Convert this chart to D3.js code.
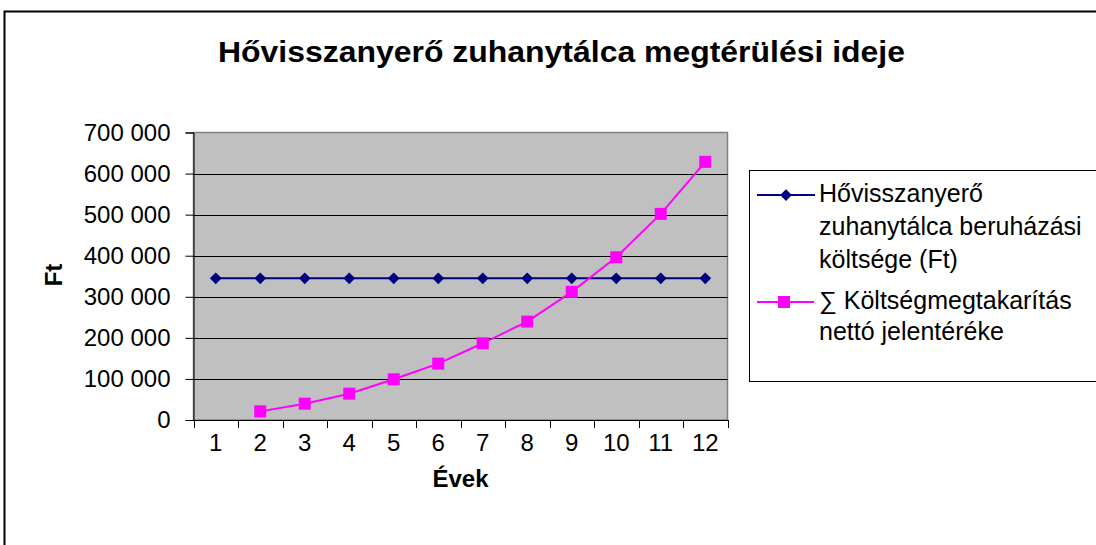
<!DOCTYPE html>
<html lang="hu">
<head>
    <meta charset="UTF-8">
    <title>Hővisszanyerő zuhanytálca megtérülési ideje</title>
    <script src="https://cdn.jsdelivr.net/npm/d3@7"></script>
    <style>
        body { margin: 0; background: #fff; }
        text { font-family: "Liberation Sans", Arial, sans-serif; fill: #000; }
    </style>
</head>
<body>
    <svg width="1096" height="545"></svg>
    <script>
        // adatok
        const years = [1, 2, 3, 4, 5, 6, 7, 8, 9, 10, 11, 12];
        const investCost = [345000, 345000, 345000, 345000, 345000, 345000, 345000, 345000, 345000, 345000, 345000, 345000];
        const savings = [null, 21000, 39700, 64100, 99100, 137200, 186800, 239600, 311900, 396300, 501900, 628600];
        const yTicks = [0, 100000, 200000, 300000, 400000, 500000, 600000, 700000];
        const seriesNames = [
            ["Hővisszanyerő", "zuhanytálca beruházási", "költsége (Ft)"],
            ["∑ Költségmegtakarítás", "nettó jelentéréke"]
        ];

        const svg = d3.select("svg");
        const plot = { left: 193.5, right: 727.5, top: 132.5, bottom: 420 };

        // külső keret
        svg.append("rect")
            .attr("x", 4.5).attr("y", 11.5)
            .attr("width", 1100).attr("height", 560)
            .attr("fill", "#fff").attr("stroke", "#000").attr("stroke-width", 2);

        svg.append("text")
            .attr("x", 218).attr("y", 62)
            .attr("font-size", 30).attr("font-weight", "bold")
            .attr("textLength", 687).attr("lengthAdjust", "spacingAndGlyphs")
            .text("Hővisszanyerő zuhanytálca megtérülési ideje");

        const x = d3.scaleBand().domain(years).range([plot.left, plot.right]);
        const y = d3.scaleLinear().domain([0, 700000]).range([plot.bottom, plot.top]);

        svg.append("rect")
            .attr("x", plot.left).attr("y", plot.top)
            .attr("width", plot.right - plot.left).attr("height", plot.bottom - plot.top)
            .attr("fill", "#c0c0c0").attr("stroke", "#808080").attr("stroke-width", 1.5);

        // rácsvonalak
        svg.append("g").selectAll("line")
            .data(yTicks.filter(d => d > 0 && d < 700000))
            .join("line")
            .attr("x1", plot.left).attr("x2", plot.right)
            .attr("y1", d => Math.round(y(d)) + 0.5).attr("y2", d => Math.round(y(d)) + 0.5)
            .attr("stroke", "#000").attr("stroke-width", 1);

        const fmt = d => d3.format(",")(d).replace(/,/g, " ");

        const yAxis = svg.append("g")
            .attr("transform", `translate(${plot.left},0)`)
            .call(d3.axisLeft(y).tickValues(yTicks).tickFormat(fmt).tickSize(8).tickPadding(15));
        yAxis.selectAll("text").attr("font-size", 24).attr("font-family", "Liberation Sans, Arial, sans-serif");
        yAxis.selectAll("line, path").attr("stroke", "#000");

        const xAxis = svg.append("g")
            .attr("transform", `translate(0,${plot.bottom})`)
            .call(d3.axisBottom(x).tickSize(0).tickPadding(14));
        xAxis.selectAll("text").attr("font-size", 24).attr("font-family", "Liberation Sans, Arial, sans-serif");
        xAxis.select("path").attr("stroke", "#000");

        // kategóriahatárok jelölői
        const edges = years.map(d => x(d)).concat([plot.right]);
        svg.append("g").selectAll("line")
            .data(edges)
            .join("line")
            .attr("x1", d => Math.round(d) + 0.5).attr("x2", d => Math.round(d) + 0.5)
            .attr("y1", plot.bottom).attr("y2", plot.bottom + 8)
            .attr("stroke", "#000");

        svg.append("text")
            .attr("x", x(6) + x.bandwidth()).attr("y", 487)
            .attr("text-anchor", "middle")
            .attr("font-size", 24).attr("font-weight", "bold")
            .text("Évek");

        svg.append("text")
            .attr("transform", "translate(62,275) rotate(-90)")
            .attr("text-anchor", "middle")
            .attr("font-size", 24).attr("font-weight", "bold")
            .text("Ft");

        const cx = d => x(d) + x.bandwidth() / 2;
        const line = d3.line()
            .defined(d => d[1] != null)
            .x(d => cx(d[0]))
            .y(d => y(d[1]));

        const diamond = d3.symbol().type(d3.symbolDiamond2).size(88);

        svg.append("path")
            .datum(years.map((d, i) => [d, investCost[i]]))
            .attr("d", line)
            .attr("fill", "none").attr("stroke", "#000080").attr("stroke-width", 2);
        svg.append("g").selectAll("path")
            .data(years.map((d, i) => [d, investCost[i]]))
            .join("path")
            .attr("transform", d => `translate(${cx(d[0])},${y(d[1])})`)
            .attr("d", diamond)
            .attr("fill", "#000080");

        const savingPts = years.map((d, i) => [d, savings[i]]).filter(d => d[1] != null);
        svg.append("path")
            .datum(savingPts)
            .attr("d", line)
            .attr("fill", "none").attr("stroke", "#ff00ff").attr("stroke-width", 2);
        svg.append("g").selectAll("rect")
            .data(savingPts)
            .join("rect")
            .attr("x", d => cx(d[0]) - 6).attr("y", d => y(d[1]) - 6)
            .attr("width", 12).attr("height", 12)
            .attr("fill", "#ff00ff");

        // jelmagyarázat
        const leg = svg.append("g");
        leg.append("rect")
            .attr("x", 749.5).attr("y", 170.5)
            .attr("width", 360).attr("height", 211)
            .attr("fill", "#fff").attr("stroke", "#000").attr("stroke-width", 1);

        const legY = [195, 302];
        leg.append("line").attr("x1", 757).attr("x2", 815).attr("y1", legY[0]).attr("y2", legY[0])
            .attr("stroke", "#000080").attr("stroke-width", 2);
        leg.append("path").attr("transform", `translate(786,${legY[0]})`)
            .attr("d", diamond).attr("fill", "#000080");
        leg.append("line").attr("x1", 757).attr("x2", 814).attr("y1", legY[1]).attr("y2", legY[1])
            .attr("stroke", "#ff00ff").attr("stroke-width", 2);
        leg.append("rect").attr("x", 778).attr("y", legY[1] - 6).attr("width", 12).attr("height", 12)
            .attr("fill", "#ff00ff");

        const baselines = [202, 235, 268, 309, 340];
        seriesNames.flat().forEach((t, i) => {
            leg.append("text")
                .attr("x", 819).attr("y", baselines[i])
                .attr("font-size", 25)
                .text(t);
        });
    </script>
</body>
</html>
